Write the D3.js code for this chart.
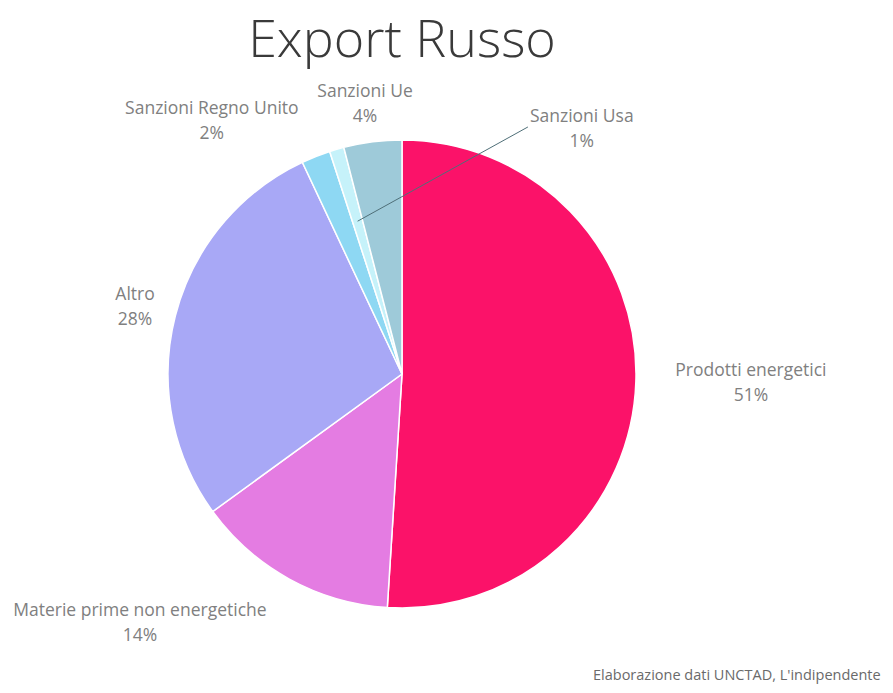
<!DOCTYPE html>
<html>
<head>
<meta charset="utf-8">
<script src="https://cdn.jsdelivr.net/npm/d3@7"></script>
<style>
	body { margin: 0; background: #fff; }
	text { font-family: "Open Sans", sans-serif; }
</style>
</head>
<body>
<div id="chart"></div>
<script>
// chart data
var categories = ["Prodotti energetici", "Materie prime non energetiche", "Altro", "Sanzioni Regno Unito", "Sanzioni Usa", "Sanzioni Ue"];
var values = [51, 14, 28, 2, 1, 4];
var colors = ["#fb1269", "#e47ce2", "#a8a8f6", "#8ed8f3", "#c6f2fa", "#9ecad9"];

// label placement: angle (deg, clockwise from top) and distance as factor of radius
var labelAngle = [90.3, 227.3, 285.5, 323.8, 35.5, 352.4];
var labelDist = [1.491, 1.524, 1.184, 1.376, 1.323, 1.194];
// slices whose label sits away from them, joined by a leader line
var leader = [false, false, false, false, true, false];

var w = 893, h = 693,
	cx = 402, cy = 374,
	radius = 234,
	lineGap = 25;

var svg = d3.select("#chart")
	.append("svg")
	.attr("width", w)
	.attr("height", h);

svg.append("text")
	.attr("x", cx)
	.attr("y", 57)
	.attr("text-anchor", "middle")
	.attr("font-size", "52px")
	.attr("font-weight", 300)
	.attr("fill", "#3a3a3a")
	.text("Export Russo");

var pie = d3.pie().sort(null).value(function(d) { return d; });
var arcs = pie(values);
var arc = d3.arc().innerRadius(0).outerRadius(radius);

var g = svg.append("g")
	.attr("transform", "translate(" + cx + "," + cy + ")");

g.selectAll("path")
	.data(arcs)
	.enter().append("path")
	.attr("d", arc)
	.attr("fill", function(d, i) { return colors[i]; })
	.attr("stroke", "#fff")
	.attr("stroke-width", 1.5);

function polar(angleDeg, r) {
	var a = angleDeg * Math.PI / 180;
	return [r * Math.sin(a), -r * Math.cos(a)];
}

var labels = g.selectAll("g.lbl")
	.data(arcs)
	.enter().append("g")
	.attr("class", "lbl")
	.attr("transform", function(d, i) {
		var p = polar(labelAngle[i], radius * labelDist[i]);
		return "translate(" + p[0] + "," + p[1] + ")";
	});

labels.append("text")
	.attr("class", "name")
	.attr("text-anchor", "middle")
	.attr("y", 0)
	.attr("font-size", "17.5px")
	.attr("fill", "#808080")
	.text(function(d, i) { return categories[i]; });

labels.append("text")
	.attr("text-anchor", "middle")
	.attr("y", lineGap)
	.attr("font-size", "17.5px")
	.attr("fill", "#808080")
	.text(function(d, i) { return values[i] + "%"; });

// leader line for the thin slices
labels.each(function(d, i) {
	if (!leader[i]) return;
	var mid = (d.startAngle + d.endAngle) / 2 * 180 / Math.PI;
	var start = polar(mid, radius * 0.68);
	var p = polar(labelAngle[i], radius * labelDist[i]);
	var len = d3.select(this).select("text.name").node().getComputedTextLength();
	g.append("line")
		.attr("x1", start[0])
		.attr("y1", start[1])
		.attr("x2", p[0] - len / 2 - 2)
		.attr("y2", p[1] + 5)
		.attr("stroke", "#4f6f78")
		.attr("stroke-width", 1);
});

svg.append("text")
	.attr("x", 593)
	.attr("y", 680)
	.attr("font-size", "14.5px")
	.attr("fill", "#6a6a6a")
	.text("Elaborazione dati UNCTAD, L'indipendente");
</script>
</body>
</html>
